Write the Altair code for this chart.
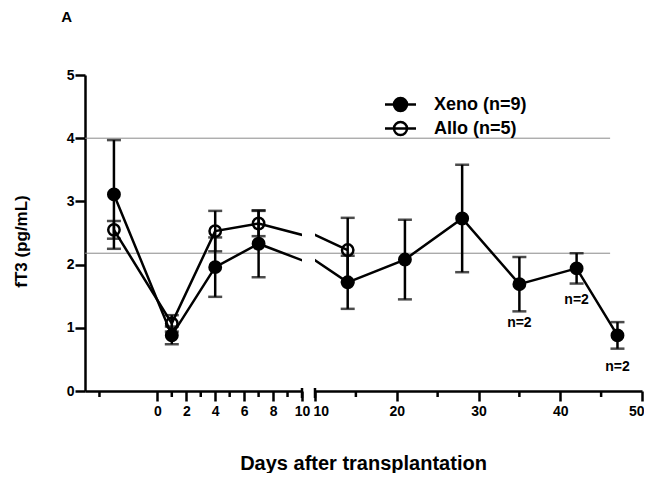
import altair as alt
import pandas as pd

# ---------------- data ----------------
series_names = ["Xeno (n=9)", "Allo (n=5)"]

xeno_days = [-3, 1, 4, 7, 14, 21, 28, 35, 42, 47]
xeno_mean = [3.11, 0.88, 1.96, 2.33, 1.72, 2.08, 2.73, 1.69, 1.94, 0.88]
xeno_err = [0.86, 0.14, 0.47, 0.53, 0.42, 0.63, 0.85, 0.43, 0.24, 0.21]

allo_days = [-3, 1, 4, 7, 14]
allo_mean = [2.55, 1.07, 2.53, 2.65, 2.23]
allo_err = [0.14, 0.13, 0.32, 0.20, 0.51]

left_domain = [-5, 10]
right_domain = [10, 50]
left_major = [0, 2, 4, 6, 8, 10]
left_minor = [-4, 1, 3, 5, 7, 9]
right_major = [10, 20, 30, 40, 50]
right_minor = [15, 25, 35, 45]
y_ticks = [0, 1, 2, 3, 4, 5]
break_day = [10]

ref_levels = [4.0, 2.18]
ref_end_day = 46.1

note_days = [35, 42, 47]
note_y = [1.08, 1.44, 0.38]
note_text = ["n=2", "n=2", "n=2"]

# ---------------- tables ----------------
rows = []
for d, m, e in zip(xeno_days, xeno_mean, xeno_err):
    rows.append({"series": series_names[0], "day": d, "mean": m, "lo": m - e, "hi": m + e})
for d, m, e in zip(allo_days, allo_mean, allo_err):
    rows.append({"series": series_names[1], "day": d, "mean": m, "lo": m - e, "hi": m + e})
df = pd.DataFrame(rows)
n_ref = len(ref_levels)
ref_df = pd.DataFrame({"level": ref_levels,
                       "l0": [left_domain[0]] * n_ref,
                       "l1": [left_domain[1]] * n_ref,
                       "r0": [right_domain[0]] * n_ref,
                       "r1": [ref_end_day] * n_ref})
notes_df = pd.DataFrame({"day": note_days, "y": note_y, "text": note_text})

FONT = "Liberation Sans"
H = 316
LW = 2.5
GAP = 13

y_scale = alt.Scale(domain=[0, 5], nice=False, zero=False)
fill_scale = alt.Scale(domain=series_names, range=["black", "transparent"])

legend_path = ("M-1.55,0L1.55,0M0.65,0A0.65,0.65 0 1 1 -0.65,0"
               "A0.65,0.65 0 1 1 0.65,0Z")
legend = alt.Legend(
    title=None, orient="none", legendX=304, legendY=18,
    symbolType=legend_path, symbolSize=400, symbolStrokeWidth=LW,
    symbolStrokeColor="black", labelFont=FONT, labelFontSize=18,
    labelFontWeight="bold", labelColor="black", labelOffset=22,
    rowPadding=1,
)


def y_enc(field, axis):
    return alt.Y(field, type="quantitative", scale=y_scale, axis=axis)


def panel(domain, width, major, minor, y_axis, x_title, keep, flush):
    xs = alt.Scale(domain=domain, nice=False, zero=False)
    extra = {}
    if x_title:
        extra.update({"titleX": 48, "titleY": 78, "titleBaseline": "alphabetic"})
    if flush:
        extra.update({"labelFlush": True, "labelFlushOffset": 2})
    else:
        extra.update({"labelFlush": False})
    x_axis = alt.Axis(
        values=major, tickSize=10, tickWidth=LW, tickColor="black",
        domainColor="black", domainWidth=LW, labelFont=FONT,
        labelFontSize=14, labelFontWeight="bold", labelColor="black",
        labelPadding=3, grid=False, format="d",
        title=x_title if x_title else None,
        titleFont=FONT, titleFontSize=20, titleFontWeight="bold",
        titleColor="black", **extra,
    )

    def x_enc(field):
        return alt.X(field, type="quantitative", scale=xs, axis=x_axis)

    sub = df[keep(df["day"])]

    line = alt.Chart(df).mark_line(color="black", strokeWidth=LW, clip=True).encode(
        x=x_enc("day"), y=y_enc("mean", y_axis), detail="series:N")
    err = alt.Chart(sub).mark_errorbar(ticks=True, size=14, thickness=LW, color="black").encode(
        x=x_enc("day"), y=y_enc("lo", y_axis), y2="hi")
    pts = alt.Chart(sub).mark_circle(size=130, stroke="black", strokeWidth=LW, opacity=1).encode(
        x=x_enc("day"), y=y_enc("mean", y_axis),
        fill=alt.Fill("series:N", scale=fill_scale, legend=legend))
    minor_ticks = alt.Chart(pd.DataFrame({"t": minor})).mark_rule(
        color="black", strokeWidth=LW).encode(
        x=x_enc("t"), y=alt.value(H), y2=alt.value(H + 6))
    brk = alt.Chart(pd.DataFrame({"b": break_day})).mark_rule(
        color="black", strokeWidth=LW).encode(
        x=x_enc("b"), y=alt.value(H - 3), y2=alt.value(H + 7))
    return xs, x_enc, [line, err, pts, minor_ticks, brk]


yax_left = alt.Axis(
    values=y_ticks, tickSize=10, tickWidth=LW, tickColor="black",
    domainColor="black", domainWidth=LW, labelFont=FONT, labelFontSize=14,
    labelFontWeight="bold", labelColor="black", labelPadding=1, grid=False,
    title="fT3 (pg/mL)", titleFont=FONT, titleFontSize=17,
    titleFontWeight="bold", titleColor="black", titlePadding=36,
    titleY=166,
)

# left panel
xs_l, xenc_l, layers_l = panel(left_domain, 217, left_major, left_minor,
                               yax_left, None, lambda d: d <= 10, False)
ref_l = alt.Chart(ref_df).mark_rule(color="#8a8a8a", strokeWidth=1).encode(
    y=y_enc("level", yax_left), x=xenc_l("l0"), x2=alt.X2("l1"))
left = alt.layer(ref_l, *layers_l).properties(width=217, height=H)

# right panel
xs_r, xenc_r, layers_r = panel(right_domain, 327, right_major, right_minor,
                               None, "Days after transplantation",
                               lambda d: d >= 10, True)
ref_r = alt.Chart(ref_df).mark_rule(color="#8a8a8a", strokeWidth=1).encode(
    y=y_enc("level", None), x=xenc_r("r0"), x2=alt.X2("r1"))
ref_gap = alt.Chart(ref_df).mark_rule(color="#8a8a8a", strokeWidth=1).encode(
    y=y_enc("level", None), x=alt.value(-GAP), x2=alt.value(0))
notes = alt.Chart(notes_df).mark_text(font=FONT, fontSize=14, fontWeight="bold",
                                      color="black").encode(
    x=xenc_r("day"), y=y_enc("y", None), text="text:N")
right = alt.layer(ref_gap, ref_r, *layers_r, notes).properties(width=327, height=H)

chart = alt.hconcat(left, right, spacing=GAP, bounds="flush").resolve_scale(
    x="independent", y="independent"
).properties(
    title=alt.TitleParams("A", anchor="start", font=FONT, fontSize=15,
                          fontWeight="bold", color="black", dx=49, offset=43,
                          baseline="top"),
    padding={"left": 4, "top": 2, "right": 0, "bottom": 0},
).configure_view(stroke=None).configure_axis(domainWidth=LW, tickWidth=LW)

chart.save("out.html", embed_options={"renderer": "svg", "actions": False})
